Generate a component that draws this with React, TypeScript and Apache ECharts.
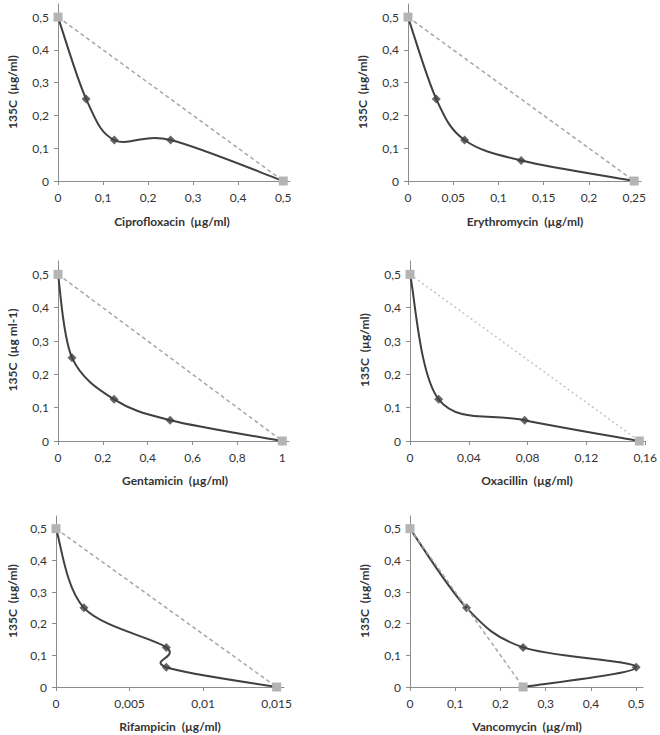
import React, { useEffect, useRef } from "react";
import * as echarts from "echarts";

// ---- data ----
const yTicks = [0, 0.1, 0.2, 0.3, 0.4, 0.5];

const cipX = [0, 0.0625, 0.125, 0.25, 0.5];
const cipY = [0.5, 0.25, 0.125, 0.125, 0];
const cipAddX = [0, 0.5];
const cipTicks = [0, 0.1, 0.2, 0.3, 0.4, 0.5];

const eryX = [0, 0.03125, 0.0625, 0.125, 0.25];
const eryY = [0.5, 0.25, 0.125, 0.0625, 0];
const eryAddX = [0, 0.25];
const eryTicks = [0, 0.05, 0.1, 0.15, 0.2, 0.25];

const genX = [0, 0.0625, 0.25, 0.5, 1];
const genY = [0.5, 0.25, 0.125, 0.0625, 0];
const genAddX = [0, 1];
const genTicks = [0, 0.2, 0.4, 0.6, 0.8, 1];

const oxaX = [0, 0.0195, 0.078, 0.156];
const oxaY = [0.5, 0.125, 0.0625, 0];
const oxaAddX = [0, 0.156];
const oxaTicks = [0, 0.04, 0.08, 0.12, 0.16];

const rifX = [0, 0.0019, 0.0075, 0.0075, 0.015];
const rifY = [0.5, 0.25, 0.125, 0.0625, 0];
const rifAddX = [0, 0.015];
const rifTicks = [0, 0.005, 0.01, 0.015];

const vanX = [0, 0.125, 0.25, 0.5, 0.25];
const vanY = [0.5, 0.25, 0.125, 0.0625, 0];
const vanAddX = [0, 0.25];
const vanTicks = [0, 0.1, 0.2, 0.3, 0.4, 0.5];

const addY = [0.5, 0];

const xTitles = [
  "Ciprofloxacin  (µg/ml)",
  "Erythromycin  (µg/ml)",
  "Gentamicin  (µg/ml)",
  "Oxacillin  (µg/ml)",
  "Rifampicin  (µg/ml)",
  "Vancomycin  (µg/ml)",
];
const yTitles = [
  "135C  (µg/ml)",
  "135C  (µg/ml)",
  "135C  (µg ml-1)",
  "135C  (µg/ml)",
  "135C  (µg/ml)",
  "135C  (µg/ml)",
];

const panels = [
  { xs: cipX, ys: cipY, addX: cipAddX, ticks: cipTicks, xMax: 0.515, grid: { left: 58, top: 4, width: 232, height: 177 }, xt: [172, 221], yt: [12, 92], dotted: false },
  { xs: eryX, ys: eryY, addX: eryAddX, ticks: eryTicks, xMax: 0.2575, grid: { left: 408, top: 4, width: 233, height: 177 }, xt: [525, 221], yt: [362, 92], dotted: false },
  { xs: genX, ys: genY, addX: genAddX, ticks: genTicks, xMax: 1.03, grid: { left: 58, top: 261, width: 231, height: 180 }, xt: [175, 480], yt: [12, 350], dotted: false },
  { xs: oxaX, ys: oxaY, addX: oxaAddX, ticks: oxaTicks, xMax: 0.16, grid: { left: 410, top: 261, width: 237, height: 180 }, xt: [527, 480], yt: [364, 350], dotted: true },
  { xs: rifX, ys: rifY, addX: rifAddX, ticks: rifTicks, xMax: 0.0155, grid: { left: 56, top: 516, width: 228, height: 171 }, xt: [170, 726], yt: [12, 601], dotted: false },
  { xs: vanX, ys: vanY, addX: vanAddX, ticks: vanTicks, xMax: 0.515, grid: { left: 410, top: 516, width: 233, height: 171 }, xt: [527, 726], yt: [364, 601], dotted: false },
];

const FONT = "Lato, 'Open Sans', sans-serif";
const fmt = (v: number) => String(+Number(v).toFixed(6)).replace(".", ",");

export default function App() {
  const ref = useRef<HTMLDivElement>(null);
  useEffect(() => {
    document.body.style.margin = "0";
    if (!ref.current) return;
    const chart = echarts.init(ref.current, undefined, { renderer: "svg" });

    const axisCommon = {
      axisLine: { show: true, onZero: false, lineStyle: { color: "#8c8c8c", width: 1 } },
      axisTick: { show: true, inside: false, length: 4, lineStyle: { color: "#8c8c8c" } },
      splitLine: { show: false },
    };

    const grids = panels.map((p) => ({ ...p.grid, containLabel: false }));
    const xAxes = panels.map((p, i) => ({
      type: "value",
      gridIndex: i,
      min: 0,
      max: p.xMax,
      ...axisCommon,
      axisTick: { ...axisCommon.axisTick, customValues: p.ticks },
      axisLabel: {
        customValues: p.ticks,
        formatter: (v: number) => fmt(v),
        color: "#333",
        fontSize: 12,
        fontFamily: FONT,
        margin: 10,
      },
    }));
    const yAxes = panels.map((p, i) => ({
      type: "value",
      gridIndex: i,
      min: 0,
      max: 0.54,
      ...axisCommon,
      axisTick: { ...axisCommon.axisTick, customValues: yTicks },
      axisLabel: {
        customValues: yTicks,
        formatter: (v: number) => fmt(v),
        color: "#333",
        fontSize: 12,
        fontFamily: FONT,
        margin: 9,
      },
    }));

    const series: any[] = [];
    panels.forEach((p, i) => {
      const n = p.xs.length;
      // smooth curve (Catmull-Rom style Bezier segments through the data points)
      series.push({
        type: "custom",
        xAxisIndex: i,
        yAxisIndex: i,
        data: p.xs.map((x, k) => [x, p.ys[k]]),
        encode: { x: 0, y: 1 },
        clip: false,
        z: 2,
        renderItem: (params: any, api: any) => {
          const s = params.dataIndex;
          if (s >= n - 1) return { type: "group", children: [] };
          const pts = p.xs.map((x, k) => api.coord([x, p.ys[k]]));
          const P0 = pts[Math.max(s - 1, 0)];
          const P1 = pts[s];
          const P2 = pts[s + 1];
          const P3 = pts[Math.min(s + 2, n - 1)];
          const t = 1 / 6;
          return {
            type: "bezierCurve",
            shape: {
              x1: P1[0],
              y1: P1[1],
              x2: P2[0],
              y2: P2[1],
              cpx1: P1[0] + (P2[0] - P0[0]) * t,
              cpy1: P1[1] + (P2[1] - P0[1]) * t,
              cpx2: P2[0] - (P3[0] - P1[0]) * t,
              cpy2: P2[1] - (P3[1] - P1[1]) * t,
            },
            style: { stroke: "#404040", lineWidth: 2, fill: "none" },
          };
        },
      });
      // diamond markers
      series.push({
        type: "scatter",
        xAxisIndex: i,
        yAxisIndex: i,
        data: p.xs.slice(1, n - 1).map((x, k) => [x, p.ys[k + 1]]),
        symbol: "diamond",
        symbolSize: 9,
        itemStyle: { color: "#404040" },
        z: 3,
      });
      // additivity line
      series.push({
        type: "line",
        xAxisIndex: i,
        yAxisIndex: i,
        data: p.addX.map((x, k) => [x, addY[k]]),
        symbol: "rect",
        symbolSize: 9,
        lineStyle: p.dotted
          ? { color: "#c4c4c4", width: 1.5, type: [2, 3] }
          : { color: "#a6a6a6", width: 1.5, type: [4, 3] },
        itemStyle: { color: "#b4b4b4" },
        z: 4,
      });
    });

    const graphic: any[] = [];
    panels.forEach((p, i) => {
      graphic.push({
        type: "text",
        x: p.xt[0],
        y: p.xt[1],
        style: {
          text: xTitles[i],
          fill: "#333",
          font: `bold 12px ${FONT}`,
          textAlign: "center",
          textVerticalAlign: "middle",
        },
      });
      graphic.push({
        type: "text",
        x: p.yt[0],
        y: p.yt[1],
        rotation: Math.PI / 2,
        style: {
          text: yTitles[i],
          fill: "#333",
          font: `bold 12px ${FONT}`,
          textAlign: "center",
          textVerticalAlign: "middle",
        },
      });
    });

    chart.setOption({
      animation: false,
      backgroundColor: "#ffffff",
      grid: grids,
      xAxis: xAxes,
      yAxis: yAxes,
      series,
      graphic,
    });
    return () => chart.dispose();
  }, []);
  return <div ref={ref} style={{ width: 660, height: 735 }} />;
}
